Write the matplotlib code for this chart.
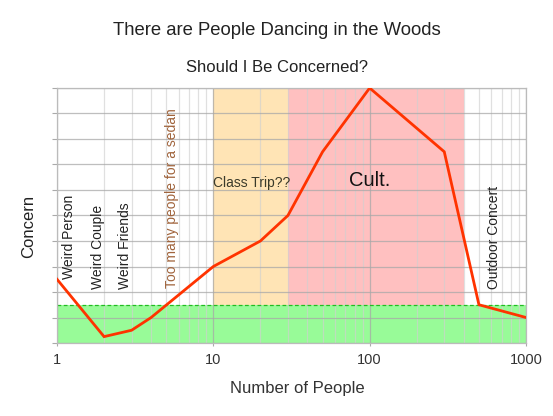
import matplotlib
matplotlib.use("Agg")
import matplotlib.pyplot as plt
import numpy as np

plt.rcParams['font.family'] = ['Liberation Sans', 'DejaVu Sans']

# data
people = [1, 2, 3, 4, 10, 20, 30, 50, 100, 300, 500, 1000]
concern = [2.5, 0.25, 0.5, 1.0, 3.0, 4.0, 5.0, 7.5, 10.0, 7.5, 1.5, 1.0]

safe_level = 1.5
class_trip = (10, 30)
cult = (30, 400)

# labels (text, x, y) -- rotated ones
side_labels = [("Weird Person", 1.185, 2.5),
               ("Weird Couple", 1.82, 2.1),
               ("Weird Friends", 2.72, 2.1),
               ("Outdoor Concert", 622, 2.1)]
sedan_label = ("Too many people for a sedan", 5.48, 2.15)

fig = plt.figure(figsize=(5.53, 4.16), dpi=100)
ax = fig.add_axes([57/553, 73/416, 469/553, 255/416])

# zones
ax.axvspan(class_trip[0], class_trip[1], color='#ffe4b5', zorder=0.2, lw=0)
ax.axvspan(cult[0], cult[1], color='#ffc0c0', zorder=0.2, lw=0)
ax.axhspan(0, safe_level, color='#98fb98', zorder=0.3, lw=0)
ax.axhline(safe_level, color='#22bb22', ls=(0, (3, 2)), lw=0.9, zorder=1.6)

# the line
ax.plot(people, concern, color='#ff3300', lw=2, zorder=3, solid_joinstyle='miter')

ax.set_xscale('log')
ax.set_xlim(1, 1000)
ax.set_ylim(0, 10)
ax.set_yticks(np.arange(0, 11, 1))
ax.set_yticklabels([])
ax.set_xticks([1, 10, 100, 1000])
ax.set_xticklabels(['1', '10', '100', '1000'])

ax.set_axisbelow('line')
ax.grid(which='major', color='#a8a8a8', alpha=0.75, lw=0.9)
ax.grid(which='minor', axis='x', color='#d0d0d0', alpha=0.65, lw=0.9)
ax.tick_params(axis='x', which='major', length=2.5, color='#aaaaaa', pad=5,
               labelsize=10.5, labelcolor='#333333')
ax.tick_params(axis='x', which='minor', length=0)
ax.tick_params(axis='y', length=3.5, color='#aaaaaa', direction='out')
for s in ax.spines.values():
    s.set_color('#bbbbbb')
    s.set_linewidth(0.9)

for txt, x, y in side_labels:
    ax.text(x, y, txt, rotation=90, ha='center', va='bottom', fontsize=10,
            color='#222222', zorder=4)
ax.text(sedan_label[1], sedan_label[2], sedan_label[0], rotation=90, ha='center',
        va='bottom', fontsize=10, color='#a0643c', zorder=4)

ax.text(10, 6.1, "Class Trip??", ha='left', va='baseline', fontsize=10,
        color='#3a3a2a', zorder=4)
ax.text(100, 6.14, "Cult.", ha='center', va='baseline', fontsize=14.5,
        color='#111111', zorder=4)

fig.text(0.5, 1 - 35/416, "There are People Dancing in the Woods", ha='center',
         va='baseline', fontsize=13.3, color='#222222')
fig.text(0.5, 1 - 72/416, "Should I Be Concerned?", ha='center', va='baseline',
         fontsize=12, color='#222222')
fig.text(297/553, 1 - 393/416, "Number of People", ha='center', va='baseline',
         fontsize=12, color='#333333')
fig.text(29/553, 1 - 226/416, "Concern", ha='center', va='center', rotation=90,
         fontsize=12, color='#222222')

fig.savefig('out.png', dpi=100)
